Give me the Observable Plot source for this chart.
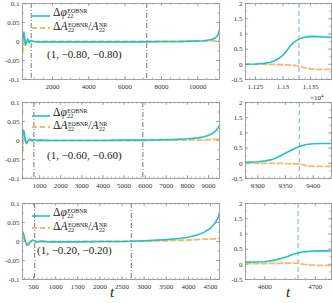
<!DOCTYPE html>
<html><head><meta charset="utf-8">
<script src="https://cdn.jsdelivr.net/npm/d3@7"></script>
<script src="https://cdn.jsdelivr.net/npm/@observablehq/plot@0.6"></script>
<style>
body{margin:0;background:#fff;}
#c{position:relative;width:332px;height:303px;overflow:hidden;font-family:"Liberation Serif",serif;color:#222;}
.p{position:absolute;}
.leg{position:absolute;font-size:11.5px;line-height:11px;white-space:nowrap;}
.st{display:inline-flex;flex-direction:column;font-size:6px;line-height:5.2px;vertical-align:3.5px;margin-left:0.5px;}
.lab{position:absolute;font-size:11px;white-space:nowrap;}
.tl{position:absolute;font-size:15px;line-height:15px;font-style:italic;}
</style></head><body><div id="c"></div><script>
// ---------- data ----------
const cats = ["(1, −0.80, −0.80)", "(1, −0.60, −0.60)", "(1, −0.20, −0.20)"];

const t1 = [350,390,430,470,515,570,625,670,710,760,800,900,1000,1200,1500,2000,3000,4000,5000,6000,7000,8000,9000,9600,10000,10300,10600,10800,10950,11050,11120,11170,11200];
const phi1 = [0.004,0.012,0.024,0.008,-0.01,-0.004,0.007,0.002,-0.003,0.0,0.003,0.001,0,-0.001,-0.001,-0.001,-0.001,-0.001,-0.001,-0.001,-0.001,0,0,0.001,0.0015,0.002,0.004,0.006,0.009,0.013,0.018,0.025,0.032];
const amp1 = [-0.03,-0.012,0.008,0.003,-0.005,-0.002,0.003,0.001,-0.002,0,0.001,0,0,0,0,0,0,0,0,0,0,0,0,0,0.001,0.001,0.001,0.002,0.002,0.002,0.003,0.003,0.003];

const t2 = [190,215,240,270,300,340,380,420,460,520,580,650,720,800,900,1000,1500,2000,3000,4000,5000,6000,7000,7500,8000,8500,8800,9000,9200,9350,9450,9520];
const phi2 = [0.005,0.018,0.027,0.022,0.01,-0.004,-0.008,-0.005,0.0,0.004,0.002,-0.001,0.003,0.001,0,0.001,0,0,0,0,0.001,0.001,0.002,0.003,0.0045,0.007,0.01,0.014,0.019,0.026,0.033,0.04];
const amp2 = [-0.03,-0.012,0.004,0.009,0.006,0.0,-0.003,-0.002,0.001,0.002,0.0,-0.001,0.001,0,0,0,0,0,0,0,0,0,0.001,0.001,0.001,0.002,0.002,0.002,0.003,0.003,0.003,0.003];

const t3 = [251,275,300,320,350,390,430,480,525,570,620,680,750,850,1000,1500,2000,2500,3000,3500,3800,4000,4200,4350,4500,4600,4660,4703];
const phi3 = [0.025,0.02,0.008,-0.002,-0.01,-0.008,-0.001,0.004,0.002,-0.002,0.0,0.001,0,-0.001,-0.001,-0.001,0,0,0.002,0.005,0.008,0.011,0.017,0.024,0.035,0.048,0.06,0.074];
const amp3 = [0.012,0.008,0.004,0.0,-0.004,-0.003,0.001,0.002,0.0,-0.001,0,0,0,0,0,0,0,0,0.001,0.002,0.003,0.004,0.005,0.006,0.006,0.007,0.008,0.008];

const z1t = [11232,11250,11265,11276,11285,11293,11300,11307,11313,11320,11329,11337,11345,11355,11365,11375,11388];
const z1phi = [0.0,0.01,0.03,0.06,0.12,0.2,0.3,0.45,0.6,0.73,0.83,0.88,0.91,0.92,0.91,0.9,0.89];
const z1amp = [0.0,0.0,0.0,0.0,-0.005,-0.01,-0.015,-0.02,-0.03,-0.04,-0.05,-0.1,-0.14,-0.16,-0.17,-0.17,-0.17];

const z2t = [9278,9300,9315,9325,9335,9345,9355,9364,9375,9387,9400,9415,9433];
const z2phi = [0.03,0.05,0.08,0.12,0.19,0.29,0.38,0.46,0.55,0.62,0.645,0.65,0.65];
const z2amp = [0,0,0,0,0,-0.005,-0.01,-0.015,-0.02,-0.08,-0.1,-0.1,-0.1];

const z3t = [4562,4580,4600,4615,4630,4645,4655,4666,4677,4690,4705,4720,4732];
const z3phi = [0.07,0.075,0.085,0.12,0.18,0.26,0.32,0.37,0.41,0.43,0.44,0.44,0.435];
const z3amp = [0.02,0.022,0.025,0.03,0.035,0.038,0.04,0.04,0.0,-0.025,-0.035,-0.035,-0.035];

// reference vertical lines
const vl1 = [830, 7190], vl2 = [730, 5890], vl3 = [527, 2710];
const merger1 = [11329], merger2 = [9375], merger3 = [4666];

// tick labels
const yTicksL = [0.1, 0.05, 0, -0.05, -0.1];
const yTicksR = [2, 1.5, 1, 0.5, 0, -0.5];
const xTicks1 = [2000, 4000, 6000, 8000, 10000];
const xTicks2 = [1000,2000,3000,4000,5000,6000,7000,8000,9000];
const xTicks3 = [500,1000,1500,2000,2500,3000,3500,4000,4500];
const xTicksZ1 = [11250, 11300, 11350];
const xTicksZ2 = [9300, 9350, 9400];
const xTicksZ3 = [4600, 4700];

// ---------- drawing ----------
const CYAN = "#1ec6c0", ORANGE = "#ffb56c", GRAY = "#8c8c8c";
const container = document.getElementById("c");

function panel(o) {
  const iw = o.w - o.ml - o.mr, ih = o.h - o.mt - o.mb;
  const [x0, x1] = o.xDomain, [y0, y1] = o.yDomain;
  const dy = (y1 - y0) / ih, dx = (x1 - x0) / iw;
  const xMaj = o.xTicks, xMin = d3.range(Math.ceil(x0 / o.xMinor) * o.xMinor, x1, o.xMinor);
  const yMaj = o.yTicks, yMin = d3.range(Math.ceil(y0 / o.yMinor - 1e-9) * o.yMinor, y1, o.yMinor);
  const data = o.t.map((t, i) => ({t, phi: o.phi[i], amp: o.amp[i]}));
  const tickStyle = {stroke: GRAY, strokeWidth: 0.7};
  const plot = Plot.plot({
    width: o.w, height: o.h,
    marginLeft: o.ml, marginRight: o.mr, marginTop: o.mt, marginBottom: o.mb,
    x: {domain: o.xDomain, label: null},
    y: {domain: o.yDomain, label: null},
    style: {fontFamily: "Liberation Serif, serif", fontSize: "7px", color: "#333", background: "transparent", overflow: "visible"},
    marks: [
      Plot.ruleX(xMin, {x: d => d, y1: y0, y2: y0 + 1.5 * dy, ...tickStyle}),
      Plot.ruleX(xMin, {x: d => d, y1: y1, y2: y1 - 1.5 * dy, ...tickStyle}),
      Plot.ruleY(yMin, {y: d => d, x1: x0, x2: x0 + 1.5 * dx, ...tickStyle}),
      Plot.ruleY(yMin, {y: d => d, x1: x1, x2: x1 - 1.5 * dx, ...tickStyle}),
      Plot.ruleX(xMaj, {x: d => d, y1: y0, y2: y0 + 3 * dy, ...tickStyle}),
      Plot.ruleX(xMaj, {x: d => d, y1: y1, y2: y1 - 3 * dy, ...tickStyle}),
      Plot.ruleY(yMaj, {y: d => d, x1: x0, x2: x0 + 3 * dx, ...tickStyle}),
      Plot.ruleY(yMaj, {y: d => d, x1: x1, x2: x1 - 3 * dx, ...tickStyle}),
      Plot.ruleX(o.vlines, {x: d => d, stroke: o.vColor, strokeWidth: o.vWidth, strokeDasharray: o.vDash}),
      Plot.line(data, {x: "t", y: "amp", stroke: ORANGE, strokeWidth: 1.8, strokeDasharray: "5,3", clip: true}),
      Plot.line(data, {x: "t", y: "phi", stroke: CYAN, strokeWidth: 1.6, clip: true}),
      Plot.frame({stroke: GRAY, strokeWidth: 0.8}),
      Plot.axisX(xMaj, {tickSize: 0, tickPadding: 5, tickFormat: o.xFmt, fontSize: 7, label: null}),
      Plot.axisY(yMaj, {tickSize: 0, tickPadding: 3, tickFormat: o.yFmt, fontSize: 7, label: null})
    ]
  });
  plot.classList.add("p");
  plot.style.left = o.left + "px";
  plot.style.top = o.top + "px";
  container.appendChild(plot);
}

const fmtPlain = d => String(d);
const rows = [
  {ft: 3, fb: 79, t: t1, phi: phi1, amp: amp1, xd: [350, 11200], xt: xTicks1, xm: 500, vl: vl1,
   zt: z1t, zphi: z1phi, zamp: z1amp, zxd: [11232, 11388], zxt: xTicksZ1, zxm: 10, mg: merger1, zfmt: d => String(d / 1e4)},
  {ft: 102, fb: 178, t: t2, phi: phi2, amp: amp2, xd: [190, 9520], xt: xTicks2, xm: 200, vl: vl2,
   zt: z2t, zphi: z2phi, zamp: z2amp, zxd: [9278, 9433], zxt: xTicksZ2, zxm: 10, mg: merger2, zfmt: fmtPlain},
  {ft: 203, fb: 279, t: t3, phi: phi3, amp: amp3, xd: [251, 4703], xt: xTicks3, xm: 100, vl: vl3,
   zt: z3t, zphi: z3phi, zamp: z3amp, zxd: [4562, 4732], zxt: xTicksZ3, zxm: 20, mg: merger3, zfmt: fmtPlain}
];

rows.forEach(r => {
  const mt = 3, mb = 21, h = (r.fb - r.ft) + mt + mb;
  panel({t: r.t, phi: r.phi, amp: r.amp, xDomain: r.xd, yDomain: [-0.1, 0.1],
    xTicks: r.xt, xMinor: r.xm, yTicks: yTicksL, yMinor: 0.025,
    vlines: r.vl, vColor: "#555", vWidth: 0.8, vDash: "5,2,1,2",
    xFmt: fmtPlain, yFmt: fmtPlain,
    w: 225, h, ml: 22, mr: 6, mt, mb, left: 0, top: r.ft - mt});
  panel({t: r.zt, phi: r.zphi, amp: r.zamp, xDomain: r.zxd, yDomain: [-0.5, 2],
    xTicks: r.zxt, xMinor: r.zxm, yTicks: yTicksR, yMinor: 0.25,
    vlines: r.mg, vColor: "#8dbde8", vWidth: 1.2, vDash: "5,3",
    xFmt: r.zfmt, yFmt: fmtPlain,
    w: 107, h, ml: 20, mr: 1, mt, mb, left: 225, top: r.ft - mt});
});

// legends and labels
const legY = [[15, 28], [115, 127], [215, 228]];
const labPos = [[47, 55], [47, 156], [37, 251]];
const st = (a, b) => `<span class="st"><span>${a}</span><span>${b}</span></span>`;
legY.forEach(([ya, yb], i) => {
  const s = document.createElementNS("http://www.w3.org/2000/svg", "svg");
  s.setAttribute("width", 22); s.setAttribute("height", 20);
  s.style.position = "absolute"; s.style.left = "31px"; s.style.top = (ya - 1) + "px";
  s.innerHTML = `<line x1="1" x2="19" y1="2" y2="2" stroke="${CYAN}" stroke-width="1.6"/>` +
    `<line x1="1" x2="19" y1="${yb - ya + 1}" y2="${yb - ya + 1}" stroke="${ORANGE}" stroke-width="1.8" stroke-dasharray="5,3"/>`;
  container.appendChild(s);
  const l1 = document.createElement("div");
  l1.className = "leg"; l1.style.left = "53px"; l1.style.top = (ya - 8) + "px";
  l1.innerHTML = "Δ<i>φ</i>" + st("EOBNR", "22");
  container.appendChild(l1);
  const l2 = document.createElement("div");
  l2.className = "leg"; l2.style.left = "53px"; l2.style.top = (yb - 7) + "px";
  l2.innerHTML = "Δ<i>A</i>" + st("EOBNR", "22") + "/<i>A</i>" + st("NR", "22");
  container.appendChild(l2);
  const lb = document.createElement("div");
  lb.className = "lab"; lb.style.left = labPos[i][0] + "px"; lb.style.top = (labPos[i][1] - 7) + "px";
  lb.textContent = cats[i];
  container.appendChild(lb);
});
const ex = document.createElement("div");
ex.className = "lab"; ex.style.fontSize = "7px"; ex.style.lineHeight = "7px"; ex.style.left = "310px"; ex.style.top = "93px";
ex.innerHTML = "×10<sup style='font-size:5px;line-height:5px'>4</sup>";
container.appendChild(ex);
[[110, 285], [286, 285]].forEach(([x, y]) => {
  const d = document.createElement("div");
  d.className = "tl"; d.style.left = x + "px"; d.style.top = y + "px"; d.textContent = "t";
  container.appendChild(d);
});
</script></body></html>
